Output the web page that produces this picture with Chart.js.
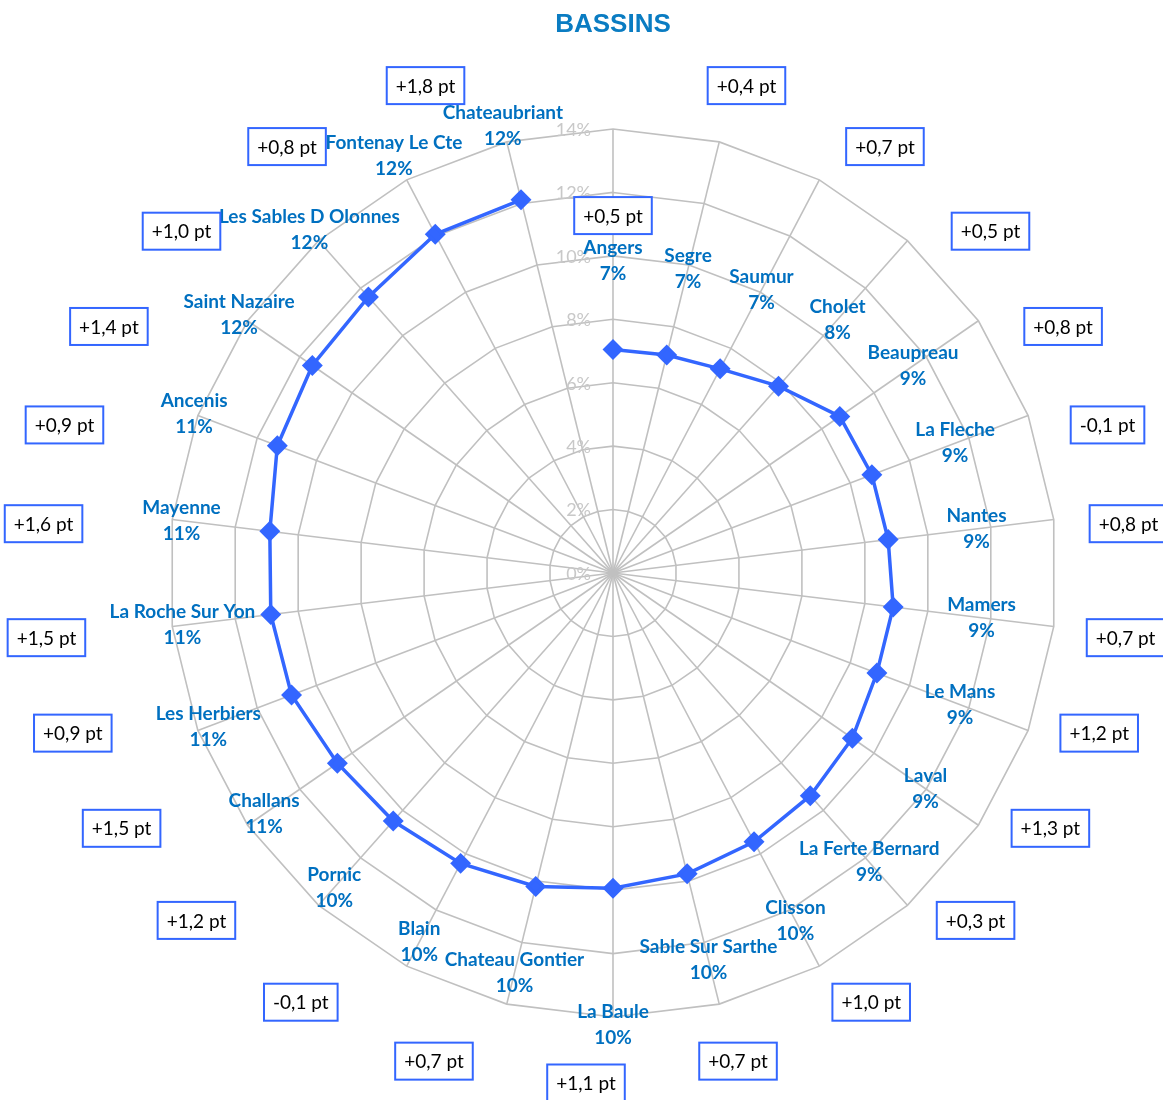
<!DOCTYPE html>
<html lang="fr">

<head>
    <meta charset="UTF-8">
    <title>Bassins</title>
    <style>
        body { margin: 0; background: #fff; }
        #wrap { width: 1163px; height: 1100px; position: relative; }
    </style>
    <script src="https://cdn.jsdelivr.net/npm/chart.js"></script>
</head>

<body>
    <div id="wrap"><canvas id="graphic"></canvas></div>
    <script>
        const bassins = ["Angers", "Segre", "Saumur", "Cholet", "Beaupreau", "La Fleche", "Nantes", "Mamers",
            "Le Mans", "Laval", "La Ferte Bernard", "Clisson", "Sable Sur Sarthe", "La Baule", "Chateau Gontier",
            "Blain", "Pornic", "Challans", "Les Herbiers", "La Roche Sur Yon", "Mayenne", "Ancenis",
            "Saint Nazaire", "Les Sables D Olonnes", "Fontenay Le Cte", "Chateaubriant"];
        const taux = [7.05, 7.08, 7.27, 7.87, 8.69, 8.73, 8.74, 8.9, 8.9, 9.17, 9.38, 9.57, 9.77, 9.94, 10.18,
            10.34, 10.45, 10.56, 10.84, 10.87, 10.9, 11.32, 11.52, 11.63, 12.06, 12.12];
        const evolution = ["+0,5 pt", "+0,4 pt", "+0,7 pt", "+0,5 pt", "+0,8 pt", "-0,1 pt", "+0,8 pt", "+0,7 pt",
            "+1,2 pt", "+1,3 pt", "+0,3 pt", "+1,0 pt", "+0,7 pt", "+1,1 pt", "+0,7 pt", "-0,1 pt", "+1,2 pt",
            "+1,5 pt", "+0,9 pt", "+1,5 pt", "+1,6 pt", "+0,9 pt", "+1,4 pt", "+1,0 pt", "+0,8 pt", "+1,8 pt"];

        const blue = "#0070C0";
        const lineBlue = "#3366FF";

        // a few labels are nudged so they don't run into their neighbours
        const labelNudge = { 13: 48, 25: -13 };

        // open the radar line (no segment from Chateaubriant back to Angers)
        const openLine = {
            id: "openLine",
            beforeDatasetsDraw(chart) {
                const line = chart.getDatasetMeta(0).dataset;
                line._loop = false;
                line._fullLoop = false;
                delete line._segments;
                delete line._path;
            }
        };

        // tick labels, point labels and the "pt" boxes
        const labelsPlugin = {
            id: "labelsPlugin",
            beforeDatasetsDraw(chart) {
                const scale = chart.scales.r;
                const ctx = chart.ctx;
                ctx.save();
                ctx.font = "18px Lato";
                ctx.fillStyle = "#c8c8c8";
                ctx.textAlign = "right";
                ctx.textBaseline = "middle";
                scale.ticks.forEach(t => {
                    const d = scale.getDistanceFromCenterForValue(t.value);
                    ctx.fillText(t.value + "%", scale.xCenter - 22, scale.yCenter - d + 1);
                });
                ctx.restore();
            },
            afterDatasetsDraw(chart) {
                const scale = chart.scales.r;
                const ctx = chart.ctx;
                const cx = scale.xCenter;
                const cy = scale.yCenter;
                ctx.save();
                ctx.textAlign = "center";
                ctx.textBaseline = "middle";

                bassins.forEach((name, i) => {
                    const d = scale.getDistanceFromCenterForValue(taux[i]) + 89 + (labelNudge[i] || 0);
                    const p = scale.getPointPosition(i, d);
                    ctx.font = "bold 19px Lato";
                    ctx.fillStyle = blue;
                    ctx.fillText(name, p.x, p.y - 13);
                    ctx.fillText(Math.round(taux[i]) + "%", p.x, p.y + 13);
                });

                ctx.font = "19px Lato";
                evolution.forEach((txt, i) => {
                    const a = scale.getIndexAngle(i);
                    let x, y;
                    if (i === 0) {
                        x = cx;
                        y = cy - scale.drawingArea * 0.805;
                    } else {
                        // boxes sit on a wide ring round the chart, a little lower in the bottom half
                        const a2 = Math.atan2(1.25 * Math.sin(a), Math.cos(a));
                        const c = Math.cos(a2), s = Math.sin(a2);
                        if (c >= 0) {
                            x = cx - 27 + s * 545;
                            y = cy - c * 510;
                        } else {
                            x = cx - 27 + s * (545 + 30 * c);
                            y = cy + 17 - c * 493;
                        }
                    }
                    const w = ctx.measureText(txt).width + 18;
                    const h = 37;
                    ctx.fillStyle = "#fff";
                    ctx.fillRect(x - w / 2, y - h / 2, w, h);
                    ctx.strokeStyle = lineBlue;
                    ctx.lineWidth = 2;
                    ctx.strokeRect(x - w / 2, y - h / 2, w, h);
                    ctx.fillStyle = "#000";
                    ctx.fillText(txt, x, y + 1);
                });
                ctx.restore();
            }
        };

        const ctx = document.getElementById("graphic").getContext("2d");

        new Chart(ctx, {
            type: "radar",
            data: {
                labels: bassins,
                datasets: [{
                    label: "Bassins",
                    data: taux,
                    fill: false,
                    borderColor: lineBlue,
                    borderWidth: 3.5,
                    pointStyle: "rectRot",
                    pointRadius: 8,
                    pointBackgroundColor: lineBlue,
                    pointBorderColor: lineBlue,
                    tension: 0
                }]
            },
            options: {
                responsive: true,
                maintainAspectRatio: false,
                animation: false,
                layout: {
                    padding: { left: 168, right: 105, top: 0, bottom: 82 }
                },
                plugins: {
                    legend: { display: false },
                    tooltip: { enabled: false },
                    title: {
                        display: true,
                        text: "BASSINS",
                        color: "#0a7cc2",
                        font: { family: "Liberation Sans", size: 26, weight: "bold" },
                        padding: { top: 9, bottom: 88 }
                    }
                },
                scales: {
                    r: {
                        min: 0,
                        max: 14,
                        ticks: { stepSize: 2, display: false },
                        pointLabels: { display: false },
                        grid: { color: "#c0c0c0", lineWidth: 1.6 },
                        angleLines: { color: "#c0c0c0", lineWidth: 1.6 }
                    }
                }
            },
            plugins: [openLine, labelsPlugin]
        });
    </script>
</body>

</html>
